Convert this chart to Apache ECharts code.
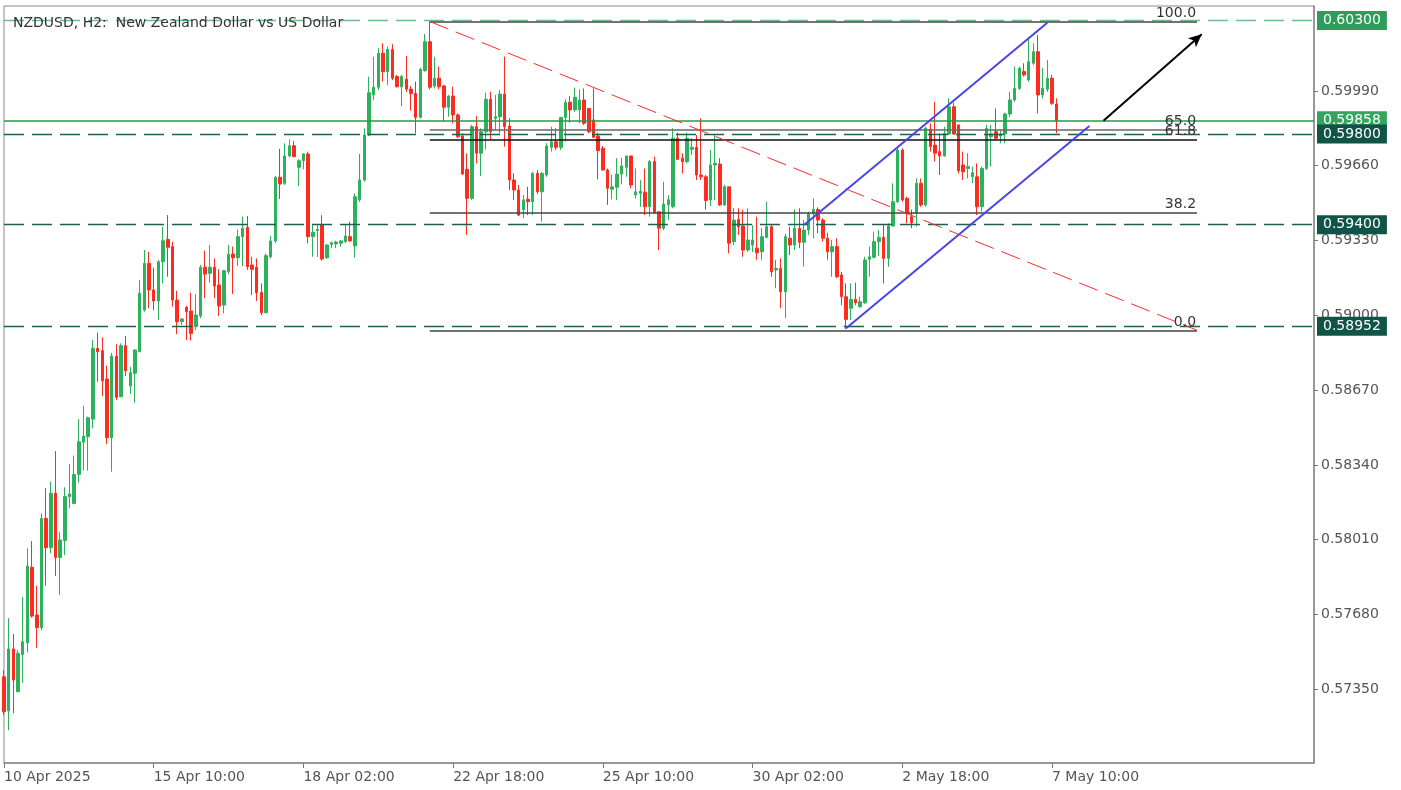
<!DOCTYPE html>
<html>
<head>
<meta charset="utf-8">
<script src="https://cdn.jsdelivr.net/npm/echarts@6/dist/echarts.min.js"></script>
<style>
html,body{margin:0;padding:0;background:#fff;}
#chart{width:1401px;height:790px;}
</style>
</head>
<body>
<div id="chart"></div>
<script>
// ---- data (NZDUSD H2) ----
const opens = [0.57405,0.57255,0.57528,0.57339,0.57504,0.57555,0.57888,0.57678,0.57623,0.58104,0.57975,0.58215,0.57932,0.58006,0.58200,0.58170,0.58298,0.58440,0.58464,0.58542,0.58854,0.58844,0.58719,0.58460,0.58820,0.58641,0.58866,0.58688,0.58744,0.58839,
0.59023,0.59229,0.59112,0.59063,0.59236,0.59335,0.59303,0.59067,0.58972,0.59035,0.59019,0.58950,0.58997,0.59212,0.59185,0.59212,0.59134,0.59045,0.59192,0.59270,0.59254,0.59347,0.59388,0.59222,0.59212,0.59101,0.59011,0.59258,0.59328,0.59609,
0.59582,0.59703,0.59748,0.59653,0.59682,0.59712,0.59347,0.59373,0.59398,0.59254,0.59313,0.59315,0.59318,0.59325,0.59347,0.59306,0.59509,0.59597,0.59795,0.59972,0.60006,0.60156,0.60075,0.60173,0.60053,0.60008,0.60042,0.59998,0.59979,0.59873,
0.60079,0.60207,0.60012,0.60046,0.60012,0.59918,0.59967,0.59884,0.59791,0.59644,0.59516,0.59832,0.59715,0.59810,0.59953,0.59869,0.59876,0.59976,0.59835,0.59597,0.59553,0.59466,0.59512,0.59501,0.59626,0.59545,0.59619,0.59741,0.59766,0.59741,
0.59873,0.59940,0.59906,0.59906,0.59950,0.59913,0.59862,0.59791,0.59737,0.59641,0.59556,0.59565,0.59623,0.59653,0.59703,0.59531,0.59538,0.59543,0.59479,0.59678,0.59457,0.59384,0.59488,0.59479,0.59781,0.59693,0.59678,0.59732,0.59741,0.59619,
0.59611,0.59509,0.59663,0.59667,0.59487,0.59567,0.59325,0.59423,0.59394,0.59288,0.59310,0.59296,0.59280,0.59344,0.59391,0.59200,0.59207,0.59104,0.59340,0.59310,0.59384,0.59322,0.59376,0.59447,0.59467,0.59420,0.59340,0.59280,0.59303,0.59178,
0.59082,0.59031,0.59070,0.59038,0.59055,0.59247,0.59256,0.59325,0.59344,0.59251,0.59394,0.59501,0.59729,0.59516,0.59435,0.59450,0.59582,0.59487,0.59821,0.59751,0.59722,0.59703,0.59800,0.59920,0.59840,0.59663,0.59648,0.59611,0.59611,0.59479,
0.59648,0.59788,0.59810,0.59791,0.59800,0.59888,0.59950,0.60001,0.60075,0.60038,0.60112,0.60163,0.59972,0.59997,0.60046,0.59932];
const closes = [0.57251,0.57528,0.57391,0.57509,0.57560,0.57894,0.57673,0.57623,0.58104,0.57975,0.58215,0.57932,0.58009,0.58200,0.58212,0.58298,0.58442,0.58467,0.58548,0.58854,0.58839,0.58711,0.58460,0.58820,0.58638,0.58866,0.58755,0.58747,0.58847,0.59097,
0.59229,0.59112,0.59063,0.59236,0.59329,0.59300,0.59067,0.58972,0.58984,0.59016,0.58920,0.59001,0.59212,0.59182,0.59212,0.59129,0.59041,0.59197,0.59269,0.59254,0.59347,0.59384,0.59214,0.59203,0.59100,0.59011,0.59263,0.59328,0.59609,0.59579,
0.59703,0.59748,0.59700,0.59682,0.59712,0.59347,0.59366,0.59379,0.59248,0.59310,0.59320,0.59323,0.59328,0.59350,0.59328,0.59523,0.59597,0.59795,0.59982,0.60006,0.60156,0.60075,0.60173,0.60046,0.60008,0.60053,0.59998,0.59979,0.59873,0.60085,
0.60207,0.60006,0.60046,0.60008,0.59918,0.59967,0.59884,0.59788,0.59623,0.59516,0.59832,0.59715,0.59810,0.59953,0.59810,0.59876,0.59976,0.59832,0.59597,0.59553,0.59442,0.59509,0.59501,0.59626,0.59545,0.59626,0.59747,0.59766,0.59741,0.59873,
0.59940,0.59906,0.59962,0.59950,0.59847,0.59810,0.59785,0.59726,0.59641,0.59560,0.59567,0.59623,0.59659,0.59703,0.59575,0.59545,0.59548,0.59479,0.59678,0.59453,0.59384,0.59491,0.59510,0.59781,0.59688,0.59678,0.59781,0.59741,0.59619,0.59611,
0.59506,0.59663,0.59670,0.59487,0.59567,0.59318,0.59420,0.59391,0.59288,0.59332,0.59332,0.59276,0.59347,0.59391,0.59192,0.59207,0.59104,0.59347,0.59310,0.59384,0.59322,0.59376,0.59447,0.59467,0.59420,0.59340,0.59280,0.59303,0.59170,0.59082,
0.58982,0.59070,0.59055,0.59060,0.59244,0.59258,0.59325,0.59344,0.59251,0.59394,0.59501,0.59729,0.59509,0.59450,0.59408,0.59582,0.59487,0.59825,0.59744,0.59715,0.59703,0.59803,0.59920,0.59800,0.59638,0.59633,0.59656,0.59629,0.59479,0.59648,
0.59825,0.59800,0.59781,0.59800,0.59888,0.59950,0.60001,0.60090,0.60060,0.60119,0.60163,0.59972,0.60001,0.60046,0.59935,0.59858];
const lows = [0.57236,0.57170,0.57245,0.57339,0.57379,0.57513,0.57666,0.57533,0.57611,0.57807,0.57950,0.57850,0.57766,0.57942,0.58148,0.58166,0.58261,0.58317,0.58314,0.58501,0.58707,0.58644,0.58432,0.58310,0.58626,0.58638,0.58732,0.58653,0.58614,0.58839,
0.59016,0.59031,0.59023,0.58979,0.59141,0.59170,0.59038,0.58917,0.58957,0.58891,0.58888,0.58935,0.58987,0.59075,0.59144,0.59075,0.58997,0.59009,0.59181,0.59094,0.59217,0.59217,0.59200,0.59089,0.59063,0.59001,0.59009,0.59251,0.59318,0.59513,
0.59575,0.59697,0.59697,0.59570,0.59644,0.59318,0.59258,0.59258,0.59241,0.59248,0.59296,0.59296,0.59303,0.59318,0.59325,0.59254,0.59500,0.59589,0.59791,0.59950,0.59994,0.60031,0.60016,0.60038,0.60006,0.59923,0.59986,0.59903,0.59803,0.59869,
0.60075,0.59997,0.60001,0.59997,0.59854,0.59876,0.59847,0.59781,0.59619,0.59354,0.59509,0.59670,0.59614,0.59732,0.59776,0.59817,0.59803,0.59744,0.59553,0.59509,0.59438,0.59428,0.59442,0.59442,0.59535,0.59413,0.59611,0.59722,0.59729,0.59729,
0.59766,0.59850,0.59898,0.59847,0.59840,0.59803,0.59781,0.59600,0.59638,0.59487,0.59512,0.59509,0.59578,0.59611,0.59560,0.59516,0.59479,0.59442,0.59435,0.59450,0.59288,0.59376,0.59420,0.59472,0.59685,0.59626,0.59670,0.59707,0.59597,0.59597,
0.59466,0.59482,0.59509,0.59482,0.59482,0.59273,0.59310,0.59354,0.59258,0.59280,0.59279,0.59245,0.59244,0.59340,0.59170,0.59119,0.59031,0.58987,0.59266,0.59288,0.59296,0.59214,0.59354,0.59340,0.59362,0.59325,0.59245,0.59170,0.59163,0.59045,
0.58938,0.58979,0.59045,0.59033,0.59050,0.59170,0.59251,0.59262,0.59141,0.59214,0.59391,0.59495,0.59501,0.59406,0.59384,0.59391,0.59479,0.59479,0.59722,0.59678,0.59619,0.59700,0.59795,0.59795,0.59626,0.59597,0.59604,0.59582,0.59442,0.59457,
0.59641,0.59656,0.59773,0.59759,0.59759,0.59876,0.59942,0.59994,0.60053,0.60031,0.60104,0.59891,0.59957,0.59986,0.59928,0.59803];
const highs = [0.57435,0.57664,0.57594,0.57523,0.57757,0.57972,0.58004,0.57807,0.58126,0.58237,0.58266,0.58401,0.58043,0.58241,0.58344,0.58381,0.58542,0.58601,0.58553,0.58891,0.58923,0.58903,0.58778,0.58834,0.58873,0.58876,0.58909,0.58773,0.58850,0.59156,
0.59288,0.59280,0.59210,0.59244,0.59391,0.59442,0.59325,0.59108,0.58987,0.59041,0.59100,0.59093,0.59222,0.59285,0.59310,0.59251,0.59203,0.59200,0.59310,0.59303,0.59379,0.59435,0.59438,0.59258,0.59251,0.59141,0.59273,0.59350,0.59614,0.59734,
0.59759,0.59776,0.59769,0.59688,0.59715,0.59722,0.59401,0.59401,0.59442,0.59315,0.59325,0.59329,0.59332,0.59401,0.59413,0.59538,0.59712,0.59825,0.60053,0.60141,0.60178,0.60200,0.60185,0.60196,0.60060,0.60060,0.60144,0.60012,0.60031,0.60092,
0.60241,0.60295,0.60141,0.60097,0.60016,0.59972,0.60008,0.59891,0.59803,0.59715,0.59840,0.59879,0.59825,0.59982,0.59986,0.59972,0.59994,0.60141,0.59869,0.59626,0.59575,0.59531,0.59567,0.59633,0.59641,0.59633,0.59759,0.59832,0.59825,0.59876,
0.59953,0.59967,0.60004,0.59997,0.60001,0.59913,0.60001,0.59806,0.59747,0.59648,0.59619,0.59693,0.59695,0.59703,0.59703,0.59648,0.59597,0.59648,0.59685,0.59700,0.59457,0.59589,0.59530,0.59825,0.59806,0.59715,0.59806,0.59781,0.59795,0.59869,
0.59619,0.59729,0.59795,0.59693,0.59575,0.59567,0.59473,0.59472,0.59466,0.59472,0.59398,0.59435,0.59384,0.59501,0.59398,0.59244,0.59251,0.59359,0.59391,0.59466,0.59472,0.59420,0.59457,0.59516,0.59476,0.59428,0.59364,0.59332,0.59340,0.59192,
0.59141,0.59141,0.59144,0.59082,0.59258,0.59303,0.59369,0.59376,0.59398,0.59406,0.59582,0.59744,0.59737,0.59523,0.59466,0.59604,0.59604,0.59832,0.59847,0.59942,0.59803,0.59832,0.59957,0.59938,0.59840,0.59722,0.59715,0.59656,0.59670,0.59656,
0.59840,0.59840,0.59913,0.59817,0.59894,0.59986,0.60097,0.60097,0.60112,0.60222,0.60200,0.60237,0.60090,0.60126,0.60060,0.59957];

// x-axis tick labels (bar index -> text); total slots incl. empty future space
const tickIndex = [0, 32, 64, 96, 128, 160, 192, 224];
const tickLabels = ['10 Apr 2025','15 Apr 10:00','18 Apr 02:00','22 Apr 18:00','25 Apr 10:00','30 Apr 02:00','2 May 18:00','7 May 10:00'];
const totalSlots = 281;
// y-axis tick values
const yTicks = [0.57350,0.57680,0.58010,0.58340,0.58670,0.59000,0.59330,0.59660,0.59990];
const yMin = 0.570249, yMax = 0.603645;
// horizontal price levels
const levelLight = 0.60300;   // light green dashed
const levelBid = 0.59858;     // current price
const levelsDark = [0.59800, 0.59400, 0.58952];
// Fibonacci retracement (from bar 91 to 255)
const fibStartBar = 91, fibEndBar = 255;
const fibNames = ['100.0','65.0','61.8','38.2','0.0'];
const fibPrices = [0.60296, 0.59819, 0.59776, 0.59454, 0.58934];
// red dashed trend line
const trendRed = [[91, 0.60296], [255, 0.58934]];
// blue channel
const channelUpper = [[171, 0.59398], [223, 0.60291]];
const channelLower = [[180, 0.58943], [232, 0.59835]];
// black arrow
const arrowPts = [[235, 0.59858], [256, 0.60240]];

// ---- build ----
const cats = [];
for (let i = 0; i < totalSlots; i++) cats.push(String(i));
const candles = opens.map((o, i) => [o, closes[i], lows[i], highs[i]]);
const tickSet = {};
tickIndex.forEach((t, k) => tickSet[t] = tickLabels[k]);
const isTick = (idx) => tickSet[idx] !== undefined;

const FONT = 'DejaVu Sans';
const GREEN = '#2cb25c', RED = '#ff2b1e';

function seg(p1, p2, style, extra) {
  return [Object.assign({ coord: [String(p1[0]), p1[1]], lineStyle: style, label: { show: false } }, extra || {}),
          { coord: [String(p2[0]), p2[1]] }];
}
function levelLabel(bg, txt) {
  return { show: true, position: 'end', distance: 3, formatter: txt,
    color: '#fff', backgroundColor: bg, padding: [3, 6, 2, 6], lineHeight: 14, fontSize: 14, fontFamily: FONT };
}

const mlData = [];
// dashed horizontal levels
mlData.push({ yAxis: levelLight, lineStyle: { color: '#6dbd8a', width: 1.3, type: [20, 8] }, label: levelLabel('#2e9c5a', levelLight.toFixed(5)) });
mlData.push({ yAxis: levelBid, lineStyle: { color: '#1f9e45', width: 1.5, type: 'solid', opacity: 1 }, label: levelLabel('#33a55e', levelBid.toFixed(5)) });
levelsDark.forEach(v => mlData.push({ yAxis: v, lineStyle: { color: '#1f5f50', width: 1.3, type: [20, 8] }, label: levelLabel('#0f5446', v.toFixed(5)) }));
// fib lines
const fibColors = ['#444', '#666', '#111', '#444', '#444'];
fibPrices.forEach((p, k) => {
  mlData.push([{ coord: [String(fibStartBar), p], lineStyle: { color: fibColors[k], width: 1.5, type: 'solid' },
    label: { show: true, position: 'insideEndTop', distance: 1, formatter: fibNames[k], color: '#333', fontSize: 14, fontFamily: FONT } },
    { coord: [String(fibEndBar), p] }]);
});
// trend + channel
mlData.push(seg(trendRed[0], trendRed[1], { color: '#ff2a2a', width: 1, type: [20, 8] }));
mlData.push(seg(channelUpper[0], channelUpper[1], { color: '#4646e8', width: 2, type: 'solid' }));
mlData.push(seg(channelLower[0], channelLower[1], { color: '#4646e8', width: 2, type: 'solid' }));
// arrow
mlData.push([{ coord: [String(arrowPts[0][0]), arrowPts[0][1]], symbol: 'none', lineStyle: { color: '#000', width: 2, type: 'solid' }, label: { show: false } },
             { coord: [String(arrowPts[1][0]), arrowPts[1][1]], symbol: 'arrow', symbolSize: [9, 13] }]);

const chart = echarts.init(document.getElementById('chart'), null, { renderer: 'canvas' });
chart.setOption({
  animation: false,
  backgroundColor: '#fff',
  title: { text: 'NZDUSD, H2:  New Zealand Dollar vs US Dollar', left: 8, top: 11,
    textStyle: { fontSize: 14, fontWeight: 'normal', color: '#333', fontFamily: FONT } },
  grid: { left: 4, right: 87, top: 6, bottom: 27, show: true, borderColor: '#8a8a8a', borderWidth: 1, backgroundColor: 'transparent' },
  xAxis: {
    type: 'category', data: cats, boundaryGap: false,
    axisLine: { show: true, lineStyle: { color: '#8a8a8a', width: 1.5 } },
    axisTick: { show: true, interval: (i) => isTick(i), length: 5, lineStyle: { color: '#777' } },
    axisLabel: { interval: (i) => isTick(i), formatter: (v, i) => tickSet[i] || '', align: 'left',
      color: '#555', fontSize: 14, fontFamily: FONT, margin: 7 },
    splitLine: { show: false }
  },
  yAxis: {
    type: 'value', position: 'right', min: yMin, max: yMax, scale: true,
    splitLine: { show: false },
    axisLine: { show: true, lineStyle: { color: '#8a8a8a', width: 1.5 } },
    axisTick: { show: true, length: 4, lineStyle: { color: '#777' }, customValues: yTicks },
    axisLabel: { customValues: yTicks, formatter: (v) => v.toFixed(5), color: '#555', fontSize: 14, fontFamily: FONT, margin: 7 }
  },
  series: [
    {
      type: 'candlestick', data: candles, barWidth: 3, clip: true,
      itemStyle: { color: GREEN, color0: RED, borderColor: GREEN, borderColor0: RED, borderWidth: 1 }
    },
    {
      type: 'line', data: [], silent: true, z: 5,
      markLine: { silent: true, precision: 5, symbol: ['none', 'none'], animation: false, data: mlData }
    }
  ]
});
</script>
</body>
</html>
